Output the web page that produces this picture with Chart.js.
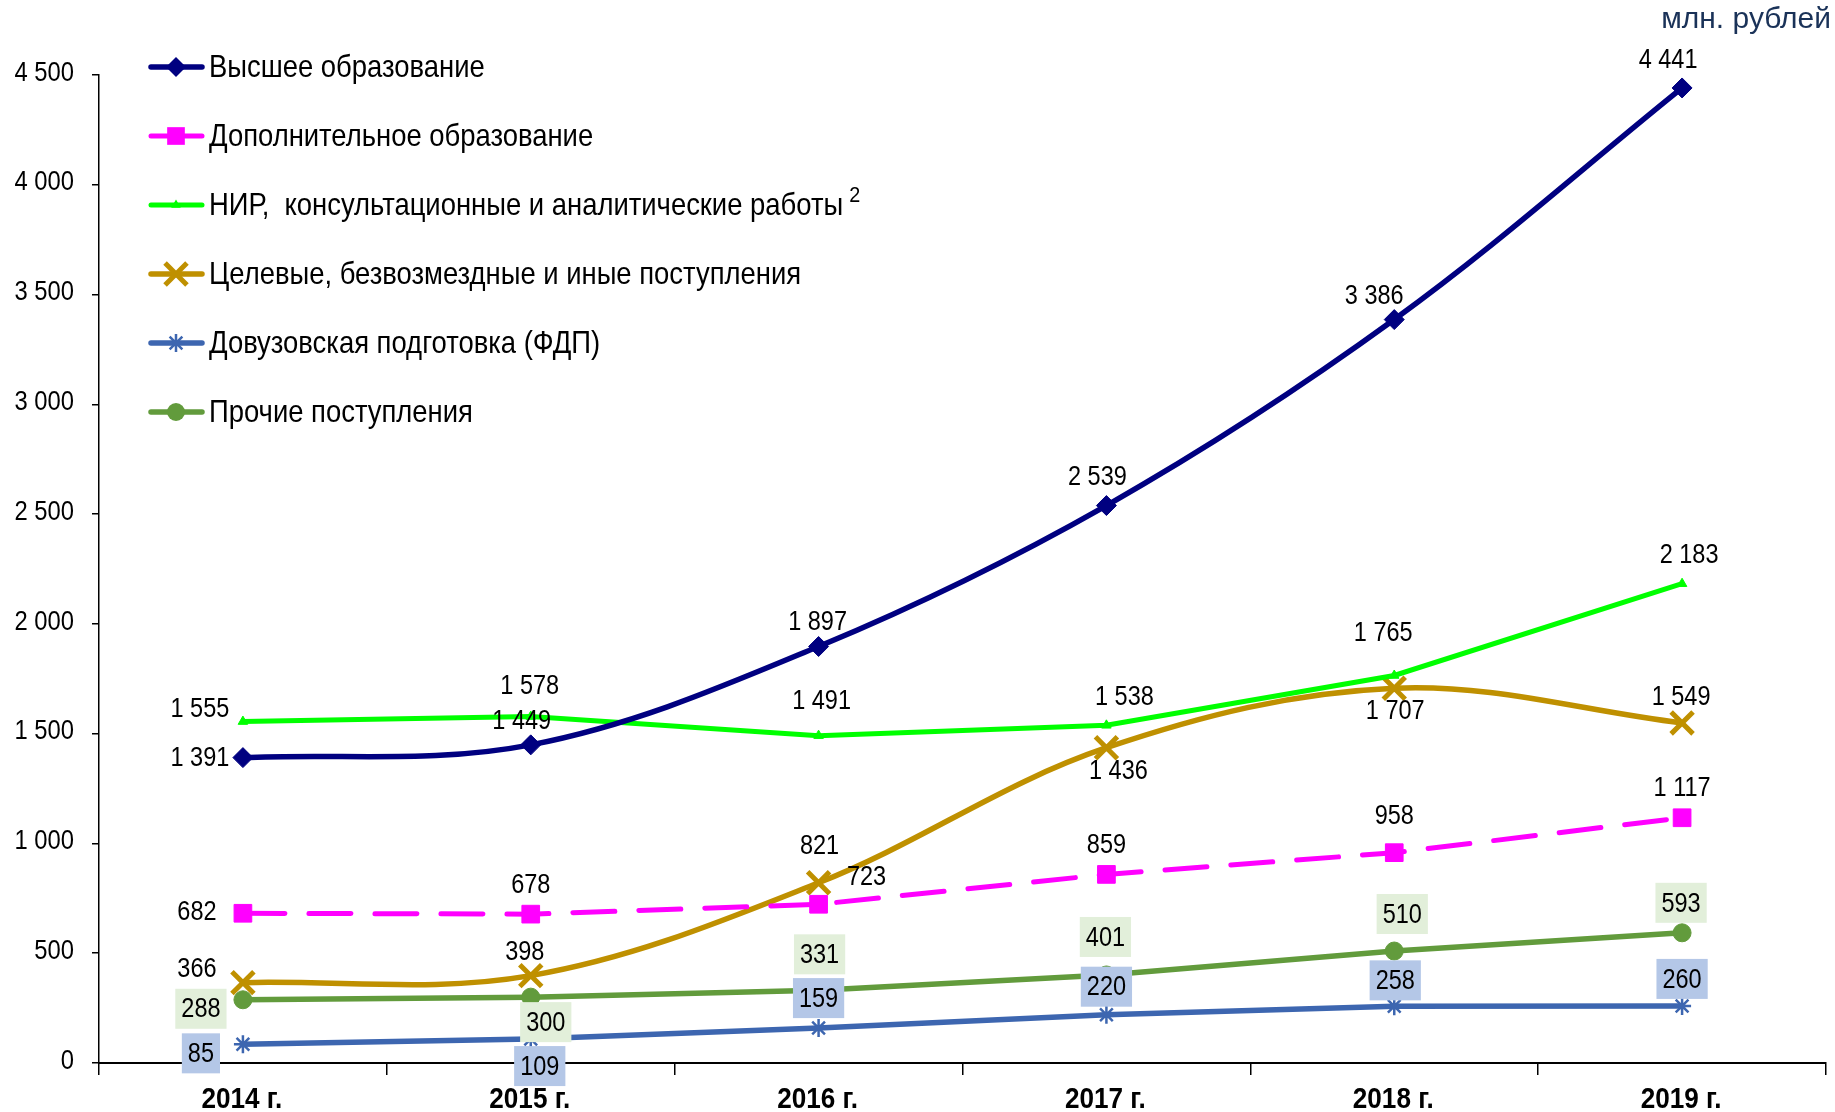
<!DOCTYPE html>
<html><head><meta charset="utf-8">
<script src="https://cdn.jsdelivr.net/npm/chart.js@4.4.1/dist/chart.umd.min.js"></script>
<style>html,body{margin:0;padding:0;background:#fff;overflow:hidden;} #wrap{position:relative;width:1835px;height:1112px;}</style>
</head><body><div id="wrap"><canvas id="c"></canvas></div>
<script>
// ---- data ----
const years = ['2014 г.','2015 г.','2016 г.','2017 г.','2018 г.','2019 г.'];
const seriesNames = [
  'Высшее образование',
  'Дополнительное образование',
  'НИР,  консультационные и аналитические работы',
  'Целевые, безвозмездные и иные поступления',
  'Довузовская подготовка (ФДП)',
  'Прочие поступления'
];
const higherEdu     = [1391, 1449, 1897, 2539, 3386, 4441];
const additionalEdu = [682, 678, 723, 859, 958, 1117];
const research      = [1555, 1578, 1491, 1538, 1765, 2183];
const targeted      = [366, 398, 821, 1436, 1707, 1549];
const preUniversity = [85, 109, 159, 220, 258, 260];
const otherIncome   = [288, 300, 331, 401, 510, 593];
const yMin = 0, yMax = 4500, yStep = 500;
const unitLabel = 'млн. рублей';
const footnoteMark = '2';

// ---- label placement (offsets from point, px) ----
const labelOffsets = [
  [[-43,0],[-9,-25],[-1,-25],[-9,-29],[-20,-24],[-14,-29]],
  [[-46,-2],[0,-30],[48,-28],[0,-30],[0,-37],[0,-30]],
  [[-43,-13],[-1,-31],[3,-35],[18,-29],[-11,-43],[7,-29]],
  [[-46,-14],[-6,-24],[1,-37],[12,23],[1,22],[-1,-27]],
  [[-42,9],[9,27],[0,-30],[0,-28],[1,-26],[0,-27]],
  [[-42,9],[15,25],[1,-36],[-1,-38],[8,-37],[-1,-30]]
];
const labelBoxes = [null, null, null, null, '#B4C7E7', '#E2EFDA'];

const SANS = '"Liberation Sans", Arial, sans-serif';
const fmt = v => String(v).replace(/\B(?=(\d{3})+(?!\d))/g, ' ');

// condensed text (Arial-Narrow look): Liberation Sans squeezed horizontally
function narrowText(ctx, text, x, y, o) {
  ctx.save();
  ctx.font = o.font; ctx.fillStyle = o.color || '#000';
  ctx.textAlign = o.align || 'center'; ctx.textBaseline = o.baseline || 'middle';
  ctx.translate(x, y); ctx.scale(o.k, 1);
  ctx.fillText(text, 0, 0);
  ctx.restore();
}
function narrowWidth(ctx, text, font, k) {
  ctx.save(); ctx.font = font; const w = ctx.measureText(text).width * k; ctx.restore(); return w;
}

function drawMarker(ctx, style, r, x, y, color, bw) {
  ctx.save();
  ctx.fillStyle = color; ctx.strokeStyle = color; ctx.lineWidth = bw; ctx.setLineDash([]);
  ctx.beginPath();
  if (style === 'rectRot') {
    ctx.moveTo(x, y - r); ctx.lineTo(x + r, y); ctx.lineTo(x, y + r); ctx.lineTo(x - r, y); ctx.closePath(); ctx.fill();
  } else if (style === 'rect') {
    const s = r * Math.SQRT1_2; ctx.rect(x - s, y - s, 2 * s, 2 * s); ctx.fill();
  } else if (style === 'triangle') {
    ctx.moveTo(x, y - r); ctx.lineTo(x + r * 0.87, y + r * 0.5); ctx.lineTo(x - r * 0.87, y + r * 0.5); ctx.closePath(); ctx.fill();
  } else if (style === 'crossRot') {
    const s = r * Math.SQRT1_2;
    ctx.moveTo(x - s, y - s); ctx.lineTo(x + s, y + s); ctx.moveTo(x - s, y + s); ctx.lineTo(x + s, y - s); ctx.stroke();
  } else if (style === 'star') {
    const s = r * Math.SQRT1_2;
    ctx.moveTo(x, y - r); ctx.lineTo(x, y + r); ctx.moveTo(x - r, y); ctx.lineTo(x + r, y);
    ctx.moveTo(x - s, y - s); ctx.lineTo(x + s, y + s); ctx.moveTo(x - s, y + s); ctx.lineTo(x + s, y - s); ctx.stroke();
  } else {
    ctx.arc(x, y, r, 0, Math.PI * 2); ctx.fill();
  }
  ctx.restore();
}

const LEGEND_FONT = '32px ' + SANS, LEGEND_K = 0.857;
const legendPlugin = {
  id: 'customLegend',
  afterDraw(chart) {
    const ctx = chart.ctx;
    const y0 = 67, step = 69;
    chart.data.datasets.forEach((ds, i) => {
      const y = y0 + i * step;
      ctx.save();
      ctx.strokeStyle = ds.borderColor; ctx.lineWidth = ds.borderWidth; ctx.lineCap = 'round';
      ctx.beginPath(); ctx.moveTo(151, y); ctx.lineTo(202, y); ctx.stroke();
      ctx.restore();
      drawMarker(ctx, ds.pointStyle, ds.pointRadius, 176, y, ds.borderColor, ds.pointBorderWidth);
      narrowText(ctx, ds.label, 209, y + 1, {font: LEGEND_FONT, k: LEGEND_K, align: 'left'});
      if (i === 2) {
        const w = narrowWidth(ctx, ds.label, LEGEND_FONT, LEGEND_K);
        narrowText(ctx, footnoteMark, 209 + w + 6, y - 9, {font: '22px ' + SANS, k: 0.9, align: 'left'});
      }
    });
    // unit label
    ctx.save();
    ctx.fillStyle = '#1A3258'; ctx.font = '30px ' + SANS;
    ctx.textAlign = 'right'; ctx.textBaseline = 'alphabetic';
    ctx.fillText(unitLabel, 1831, 28);
    ctx.restore();
  }
};

const LABEL_FONT = '28px ' + SANS, LABEL_K = 0.84;
const labelPlugin = {
  id: 'pointLabels',
  afterDatasetsDraw(chart) {
    const ctx = chart.ctx;
    chart.data.datasets.forEach((ds, di) => {
      const meta = chart.getDatasetMeta(di);
      meta.data.forEach((pt, i) => {
        const txt = fmt(ds.data[i]);
        const [dx, dy] = labelOffsets[di][i];
        const x = pt.x + dx, y = pt.y + dy;
        if (labelBoxes[di]) {
          const w = narrowWidth(ctx, txt, LABEL_FONT, LABEL_K) + 12, h = 40;
          ctx.save(); ctx.fillStyle = labelBoxes[di]; ctx.fillRect(x - w / 2, y - h / 2, w, h); ctx.restore();
        }
        narrowText(ctx, txt, x, y + 1, {font: LABEL_FONT, k: LABEL_K});
      });
    });
  }
};

// axis tick labels drawn condensed, at the library's own tick positions
const axisLabelPlugin = {
  id: 'narrowAxisLabels',
  afterLayout(chart) {
    const y = chart.scales.y, x = chart.scales.x;
    y.drawLabels = function () {
      this.ticks.forEach((t, i) => {
        narrowText(this.ctx, fmt(t.value), this.right - 25, this.getPixelForTick(i) - 2,
          {font: '28px ' + SANS, k: 0.85, align: 'right'});
      });
    };
    x.drawLabels = function () {
      this.ticks.forEach((t, i) => {
        narrowText(this.ctx, String(t.label), this.getPixelForTick(i) - 1, this.top + 37,
          {font: 'bold 29px ' + SANS, k: 0.9});
      });
    };
  }
};

function ds(label, data, color, opts) {
  return Object.assign({
    label, data, borderColor: color, backgroundColor: color,
    pointBackgroundColor: color, pointBorderColor: color,
    borderWidth: 5, pointBorderWidth: 1, tension: 0, fill: false, clip: 30
  }, opts);
}

const datasets = [
  ds(seriesNames[0], higherEdu, '#000080', {pointStyle: 'rectRot', pointRadius: 10, borderWidth: 5.5, tension: 0.35}),
  ds(seriesNames[1], additionalEdu, '#FF00FF', {pointStyle: 'rect', pointRadius: 12.5, borderDash: [42, 24], borderCapStyle: 'round'}),
  ds(seriesNames[2], research, '#00FF00', {pointStyle: 'triangle', pointRadius: 5.5, borderWidth: 5}),
  ds(seriesNames[3], targeted, '#BF9000', {pointStyle: 'crossRot', pointRadius: 15.5, pointBorderWidth: 5, borderWidth: 5.5, tension: 0.35}),
  ds(seriesNames[4], preUniversity, '#3D66B0', {pointStyle: 'star', pointRadius: 9, pointBorderWidth: 2.5, borderWidth: 5.5}),
  ds(seriesNames[5], otherIncome, '#629B3C', {pointStyle: 'circle', pointRadius: 9, borderWidth: 5.5})
];

new Chart(document.getElementById('c'), {
  type: 'line',
  data: { labels: years, datasets },
  plugins: [axisLabelPlugin, labelPlugin, legendPlugin],
  options: {
    responsive: true, maintainAspectRatio: false, animation: false,
    layout: { autoPadding: false, padding: { top: 75, right: 9, left: 0, bottom: 0 } },
    plugins: { legend: { display: false }, tooltip: { enabled: false } },
    scales: {
      x: {
        offset: true,
        grid: { offset: true, drawOnChartArea: false, drawTicks: true, tickLength: 12, color: '#000', lineWidth: 1.5 },
        border: { display: true, color: '#000', width: 2 },
        ticks: { color: '#000', padding: 8, font: { family: SANS, size: 8, weight: 'bold' } },
        afterFit(s) { s.height = 49; }
      },
      y: {
        min: yMin, max: yMax,
        grid: { drawOnChartArea: false, drawTicks: true, tickLength: 7, color: '#000', lineWidth: 1.5 },
        border: { display: true, color: '#000', width: 1.5 },
        ticks: { stepSize: yStep, color: '#000', padding: 18, font: { family: SANS, size: 8 }, callback: v => fmt(v) },
        afterFit(s) { s.width = 99; }
      }
    }
  }
});
</script></body></html>
